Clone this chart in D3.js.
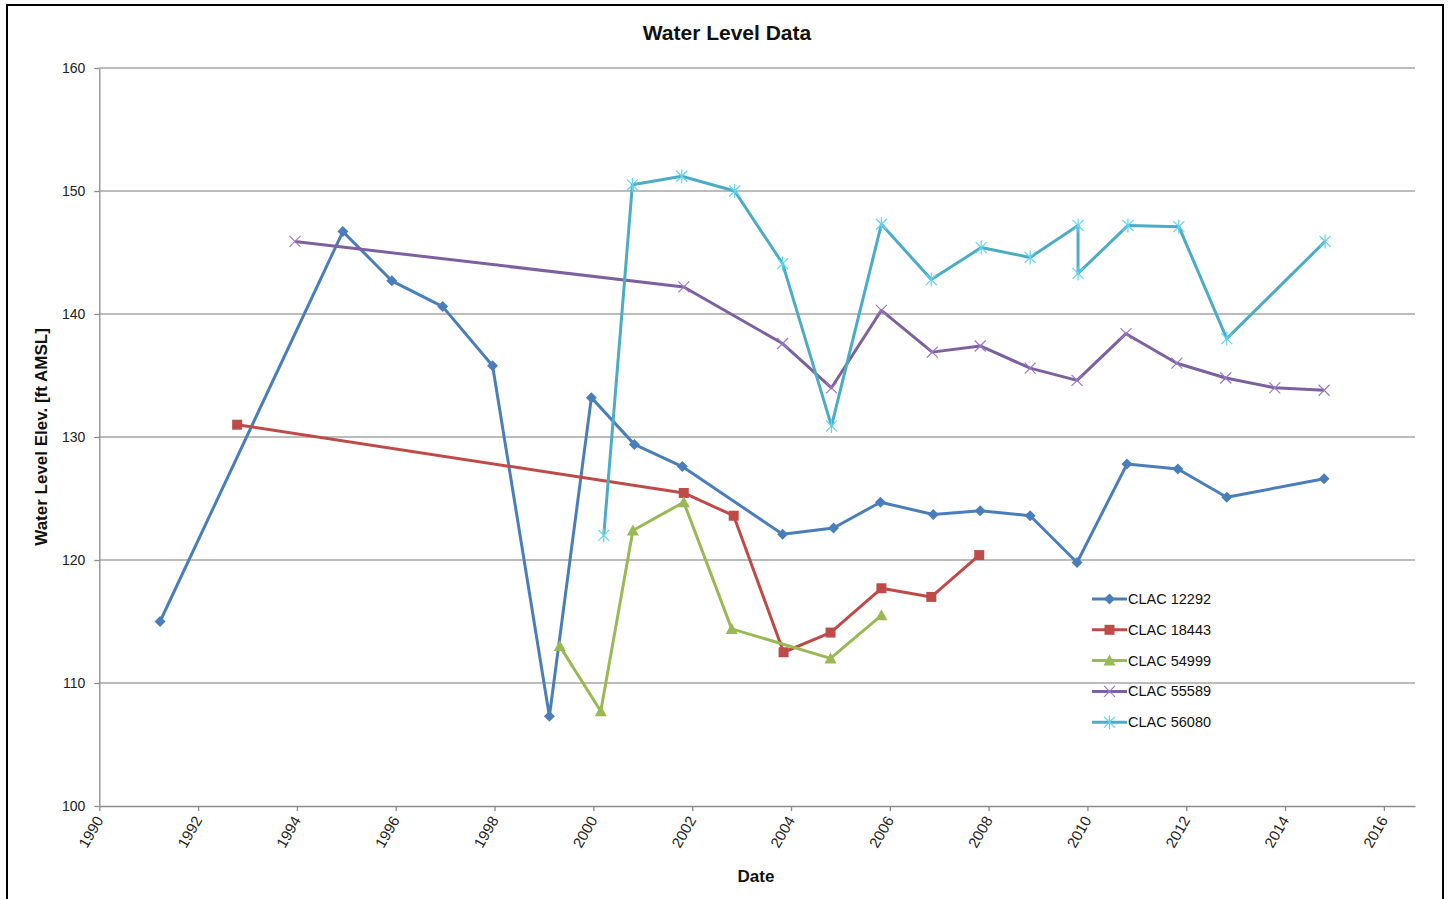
<!DOCTYPE html>
<html><head><meta charset="utf-8">
<script src="https://cdn.jsdelivr.net/npm/d3@7"></script>
<style>body{margin:0;background:#fff;} svg{display:block;font-family:"Liberation Sans",Arial,sans-serif;}</style>
</head><body>
<svg id="c" width="1450" height="899"></svg>
<script>
// ---- data (decimal years, ft AMSL) ----
const seriesNames = ["CLAC 12292","CLAC 18443","CLAC 54999","CLAC 55589","CLAC 56080"];
const s12292 = [[1991.23,115.0],[1994.93,146.7],[1995.92,142.7],[1996.95,140.6],[1997.96,135.8],[1999.11,107.3],[1999.96,133.2],[2000.83,129.4],[2001.80,127.6],[2003.83,122.1],[2004.86,122.6],[2005.81,124.7],[2006.88,123.7],[2007.83,124.0],[2008.84,123.6],[2009.79,119.8],[2010.80,127.8],[2011.83,127.4],[2012.82,125.1],[2014.79,126.6]];
const s18443 = [[1992.79,131.0],[2001.83,125.45],[2002.84,123.6],[2003.85,112.5],[2004.80,114.1],[2005.83,117.7],[2006.84,117.0],[2007.81,120.4]];
const s54999 = [[1999.32,113.0],[2000.15,107.7],[2000.80,122.4],[2001.83,124.7],[2002.80,114.4],[2004.80,112.0],[2005.83,115.5]];
const s55589 = [[1993.96,145.9],[2001.83,142.2],[2003.83,137.6],[2004.82,134.0],[2005.83,140.3],[2006.86,136.9],[2007.83,137.4],[2008.84,135.6],[2009.79,134.6],[2010.78,138.4],[2011.81,136.0],[2012.80,134.8],[2013.79,134.0],[2014.79,133.8]];
const s56080 = [[2000.21,122.0],[2000.79,150.5],[2001.79,151.2],[2002.86,150.0],[2003.83,144.1],[2004.82,130.9],[2005.83,147.3],[2006.84,142.8],[2007.85,145.4],[2008.84,144.6],[2009.81,147.2],[2009.81,143.3],[2010.82,147.2],[2011.85,147.1],[2012.82,138.0],[2014.81,145.9]];
const xTicks = [1990,1992,1994,1996,1998,2000,2002,2004,2006,2008,2010,2012,2014,2016];
const yTicks = [100,110,120,130,140,150,160];
const colors = ["#4A7EBB","#BE4B48","#98B954","#7D60A0","#4BACC6"];
const markers = ["diamond","square","triangle","x","star"];
const allSeries = [s12292,s18443,s54999,s55589,s56080];

const svg = d3.select("#c");
const L=99.3, R=1415, T=68, B=806;
const x = d3.scaleLinear().domain([1990,2016.63]).range([L,R]);
const y = d3.scaleLinear().domain([100,160]).range([B,T]);

// frame
svg.append("path").attr("d","M7,905V5H1443V905").attr("fill","none").attr("stroke","#000").attr("stroke-width",2);

// gridlines
svg.append("g").selectAll("line").data(yTicks.slice(1)).join("line")
  .attr("x1",L).attr("x2",R).attr("y1",d=>y(d)).attr("y2",d=>y(d))
  .attr("stroke","#A6A6A6").attr("stroke-width",1.3);

// axes
const gx = svg.append("g").attr("transform",`translate(0,${B})`)
  .call(d3.axisBottom(x).tickValues(xTicks).tickFormat(d3.format("d")).tickSize(5).tickSizeOuter(0));
gx.select(".domain").attr("stroke","#8C8C8C").attr("stroke-width",1.3);
gx.selectAll(".tick line").attr("stroke","#8C8C8C").attr("stroke-width",1.3);
gx.selectAll(".tick text").attr("font-size",15).attr("fill","#222")
  .attr("text-anchor","end").attr("dy",0).attr("dx",0).attr("y",0)
  .attr("transform","translate(4,14) rotate(-60)");

const gy = svg.append("g").attr("transform",`translate(${L},0)`)
  .call(d3.axisLeft(y).tickValues(yTicks).tickSize(5).tickSizeOuter(0));
gy.select(".domain").attr("stroke","#8C8C8C").attr("stroke-width",1.3);
gy.selectAll(".tick line").attr("stroke","#8C8C8C").attr("stroke-width",1.3);
gy.selectAll(".tick text").attr("font-size",14).attr("fill","#222").attr("x",-14);

// titles
svg.append("text").attr("x",727).attr("y",40).attr("text-anchor","middle")
  .attr("font-size",21).attr("font-weight","bold").attr("fill","#111").text("Water Level Data");
svg.append("text").attr("x",756).attr("y",882).attr("text-anchor","middle")
  .attr("font-size",17).attr("font-weight","bold").attr("fill","#111").text("Date");
svg.append("text").attr("transform","translate(47,437) rotate(-90)").attr("text-anchor","middle")
  .attr("font-size",17).attr("font-weight","bold").attr("fill","#111").text("Water Level Elev. [ft AMSL]");

// markers
function markerPath(type){
  switch(type){
    case "diamond": return "M0,-5.5L5.5,0L0,5.5L-5.5,0Z";
    case "square": return "M-5,-5H5V5H-5Z";
    case "triangle": return "M0,-6L6,5H-6Z";
    case "x": return "M-5.5,-5.5L5.5,5.5M5.5,-5.5L-5.5,5.5";
    case "star": return "M-5.5,-5.5L5.5,5.5M5.5,-5.5L-5.5,5.5M0,-7V7";
  }
}
function drawMarker(g,type,color){
  const filled = type==="diamond"||type==="square"||type==="triangle";
  g.append("path").attr("d",markerPath(type))
    .attr("fill",filled?color:"none")
    .attr("stroke",filled?"none":d3.color(color).brighter(0.6))
    .attr("stroke-width",filled?0:1.2);
}

const line = d3.line().x(d=>x(d[0])).y(d=>y(d[1]));
allSeries.forEach((data,i)=>{
  const g = svg.append("g");
  g.append("path").datum(data).attr("d",line).attr("fill","none")
    .attr("stroke",colors[i]).attr("stroke-width",3).attr("stroke-linejoin","round");
  data.forEach(d=>{
    const m = g.append("g").attr("transform",`translate(${x(d[0])},${y(d[1])})`);
    drawMarker(m,markers[i],colors[i]);
  });
});

// legend
const leg = svg.append("g");
seriesNames.forEach((n,i)=>{
  const yy = 599 + i*30.8;
  leg.append("line").attr("x1",1092).attr("x2",1127).attr("y1",yy).attr("y2",yy)
    .attr("stroke",colors[i]).attr("stroke-width",3);
  const m = leg.append("g").attr("transform",`translate(1109.5,${yy})`);
  drawMarker(m,markers[i],colors[i]);
  leg.append("text").attr("x",1128).attr("y",yy+5).attr("font-size",14.5).attr("fill","#111").text(n);
});
</script>
</body></html>
